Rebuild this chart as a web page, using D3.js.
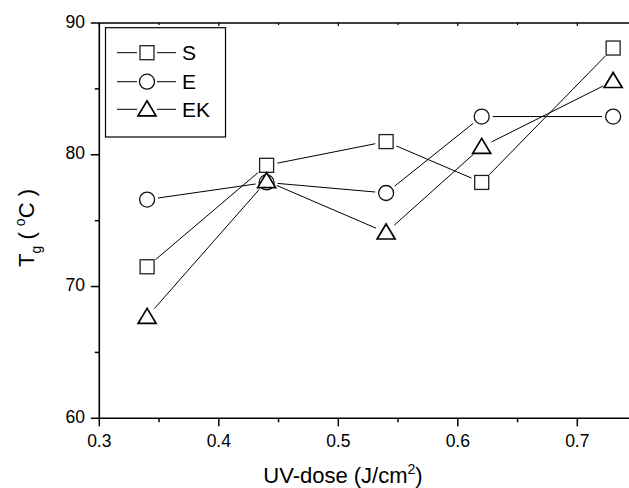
<!DOCTYPE html>
<html>
<head>
<meta charset="utf-8">
<script src="https://cdn.jsdelivr.net/npm/d3@7"></script>
<style>
  body { margin: 0; background: #fff; }
  text { font-family: Arial, "Liberation Sans", sans-serif; fill: #000; }
</style>
</head>
<body>
<svg id="chart" width="629" height="488"></svg>
<script>
const doses = [0.34, 0.44, 0.54, 0.62, 0.73];
const tgS = [71.5, 79.2, 81.0, 77.9, 88.1];
const tgE = [76.6, 77.9, 77.1, 82.9, 82.9];
const tgEK = [67.7, 78.0, 74.1, 80.6, 85.6];
const seriesNames = ['S', 'E', 'EK'];
const xTicks = [0.3, 0.4, 0.5, 0.6, 0.7];
const yTicks = [60, 70, 80, 90];

const svg = d3.select('#chart');
const plotLeft = 99.3, plotTop = 23, plotBottom = 418.3;
const x = d3.scaleLinear().domain([0.3, 0.8]).range([plotLeft, plotLeft + 5 * 119.5]);
const y = d3.scaleLinear().domain([60, 90]).range([plotBottom, plotTop]);

// axes
const xMinor = [0.35, 0.45, 0.55, 0.65, 0.75];
const yMinor = [65, 75, 85];

svg.append('line').attr('x1', plotLeft).attr('x2', 640).attr('y1', plotBottom).attr('y2', plotBottom).attr('stroke', '#000').attr('stroke-width', 1.6);
svg.append('line').attr('x1', plotLeft).attr('x2', 640).attr('y1', plotTop).attr('y2', plotTop).attr('stroke', '#000').attr('stroke-width', 1.6);
svg.append('line').attr('x1', plotLeft).attr('x2', plotLeft).attr('y1', plotTop).attr('y2', plotBottom).attr('stroke', '#000').attr('stroke-width', 1.6);

xTicks.forEach(function(v) {
  svg.append('line').attr('x1', x(v)).attr('x2', x(v)).attr('y1', plotBottom).attr('y2', plotBottom + 8).attr('stroke', '#000').attr('stroke-width', 1.5);
  svg.append('line').attr('x1', x(v)).attr('x2', x(v)).attr('y1', plotTop).attr('y2', plotTop + 3).attr('stroke', '#000').attr('stroke-width', 1.2);
  svg.append('text').attr('x', x(v)).attr('y', 447).attr('text-anchor', 'middle').style('font-size', '17.5px').text(d3.format('.1f')(v));
});
xMinor.forEach(function(v) {
  svg.append('line').attr('x1', x(v)).attr('x2', x(v)).attr('y1', plotBottom).attr('y2', plotBottom + 4).attr('stroke', '#000').attr('stroke-width', 1.5);
  svg.append('line').attr('x1', x(v)).attr('x2', x(v)).attr('y1', plotTop).attr('y2', plotTop + 2).attr('stroke', '#000').attr('stroke-width', 1.2);
});
yTicks.forEach(function(v) {
  svg.append('line').attr('x1', plotLeft - 8.5).attr('x2', plotLeft).attr('y1', y(v)).attr('y2', y(v)).attr('stroke', '#000').attr('stroke-width', 1.5);
  svg.append('text').attr('x', 85).attr('y', y(v) + 4.5).attr('text-anchor', 'end').style('font-size', '17.5px').text(v);
});
yMinor.forEach(function(v) {
  svg.append('line').attr('x1', plotLeft - 4.5).attr('x2', plotLeft).attr('y1', y(v)).attr('y2', y(v)).attr('stroke', '#000').attr('stroke-width', 1.5);
});

// axis titles
const xt = svg.append('text').attr('x', 343).attr('y', 483).attr('text-anchor', 'middle').style('font-size', '22px');
xt.append('tspan').text('UV-dose (J/cm');
xt.append('tspan').attr('dy', -9).style('font-size', '14px').text('2');
xt.append('tspan').attr('dy', 9).text(')');

const yt = svg.append('text').attr('transform', 'translate(34,228) rotate(-90)').attr('text-anchor', 'middle').style('font-size', '22px');
yt.append('tspan').text('T');
yt.append('tspan').attr('dy', 7).style('font-size', '14px').text('g');
yt.append('tspan').attr('dy', -7).text(' ( ');
yt.append('tspan').attr('dy', -9).style('font-size', '14px').text('o');
yt.append('tspan').attr('dy', 9).text('C )');

// markers
function marker(g, type, cx, cy) {
  if (type === 'S') {
    g.append('rect').attr('x', cx - 7).attr('y', cy - 7).attr('width', 14).attr('height', 14)
      .attr('fill', '#fff').attr('stroke', '#222').attr('stroke-width', 1.3);
  } else if (type === 'E') {
    g.append('circle').attr('cx', cx).attr('cy', cy).attr('r', 7.5)
      .attr('fill', '#fff').attr('stroke', '#111').attr('stroke-width', 1.3);
  } else {
    g.append('path').attr('d', 'M' + cx + ',' + (cy - 8.5) + 'L' + (cx + 9) + ',' + (cy + 6.5) + 'L' + (cx - 9) + ',' + (cy + 6.5) + 'Z')
      .attr('fill', '#fff').attr('stroke', '#000').attr('stroke-width', 1.7);
  }
}

const allSeries = [tgS, tgE, tgEK];
const gap = 11;
const lineLayer = svg.append('g');
const markLayer = svg.append('g');
allSeries.forEach(function(vals, si) {
  const pts = doses.map(function(d, i) { return [x(d), y(vals[i])]; });
  for (let i = 0; i < pts.length - 1; i++) {
    const a = pts[i], b = pts[i + 1];
    const dx = b[0] - a[0], dy = b[1] - a[1];
    const len = Math.sqrt(dx * dx + dy * dy);
    if (len <= 2 * gap) continue;
    const ux = dx / len, uy = dy / len;
    lineLayer.append('line')
      .attr('x1', a[0] + ux * gap).attr('y1', a[1] + uy * gap)
      .attr('x2', b[0] - ux * gap).attr('y2', b[1] - uy * gap)
      .attr('stroke', '#000').attr('stroke-width', 1);
  }
  pts.forEach(function(p) { marker(markLayer, seriesNames[si], p[0], p[1]); });
});

// legend
const leg = svg.append('g');
leg.append('rect').attr('x', 105.5).attr('y', 27.7).attr('width', 120).attr('height', 109.3)
  .attr('fill', '#fff').attr('stroke', '#000').attr('stroke-width', 1.2);
const legRows = [52.7, 81.7, 109.3];
seriesNames.forEach(function(name, i) {
  const ry = legRows[i];
  leg.append('line').attr('x1', 117).attr('x2', 137).attr('y1', ry).attr('y2', ry).attr('stroke', '#000').attr('stroke-width', 1);
  leg.append('line').attr('x1', 157).attr('x2', 176).attr('y1', ry).attr('y2', ry).attr('stroke', '#000').attr('stroke-width', 1);
  marker(leg, name, 147, ry);
  leg.append('text').attr('x', 182).attr('y', ry + 7.5).style('font-size', '21px').text(name);
});
</script>
</body>
</html>
